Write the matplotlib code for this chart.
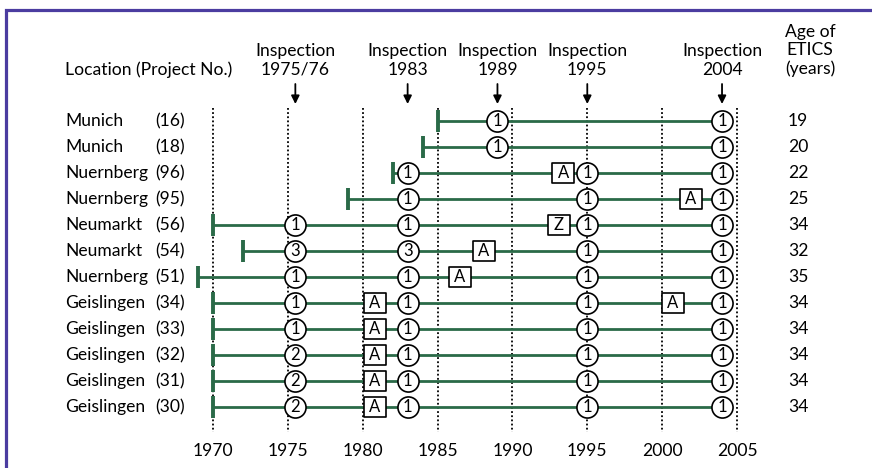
import matplotlib.pyplot as plt
from matplotlib.patches import Rectangle
from matplotlib.path import Path

plt.rcParams['font.family'] = ['Lato', 'DejaVu Sans']

# rows, top to bottom
names = ["Munich", "Munich", "Nuernberg", "Nuernberg", "Neumarkt", "Neumarkt",
         "Nuernberg", "Geislingen", "Geislingen", "Geislingen", "Geislingen", "Geislingen"]
projects = ["(16)", "(18)", "(96)", "(95)", "(56)", "(54)",
            "(51)", "(34)", "(33)", "(32)", "(31)", "(30)"]
start_year = [1985, 1984, 1982, 1979, 1970, 1972, 1969, 1970, 1970, 1970, 1970, 1970]
end_year = 2004
ages = [19, 20, 22, 25, 34, 32, 35, 34, 34, 34, 34, 34]

# inspections and the grade given at each (None = not inspected)
insp_years = [1975.5, 1983, 1989, 1995, 2004]
insp_labels = ["1975/76", "1983", "1989", "1995", "2004"]
g1975 = [None, None, None, None, 1, 3, 1, 1, 1, 2, 2, 2]
g1983 = [None, None, 1, 1, 1, 3, 1, 1, 1, 1, 1, 1]
g1989 = [1, 1, None, None, None, None, None, None, None, None, None, None]
g1995 = [None, None, 1, 1, 1, 1, 1, 1, 1, 1, 1, 1]
g2004 = [1, 1, 1, 1, 1, 1, 1, 1, 1, 1, 1, 1]
grades = [g1975, g1983, g1989, g1995, g2004]

# repairs / renovations
rep_rows = [2, 3, 4, 5, 6, 7, 7, 8, 9, 10, 11]
rep_years = [1993.4, 2001.9, 1993.1, 1988.1, 1986.5, 1980.8, 2000.7, 1980.8, 1980.8, 1980.8, 1980.8]
rep_labels = ["A", "A", "Z", "A", "A", "A", "A", "A", "A", "A", "A"]

green = "#2a6a48"
fs = 12.6
W, H = 872, 468
ppy = 524 / 35          # pixels per year
x0 = 1970 - 213 / ppy
row_px, row0 = 26, 121


def yr(px):
    return x0 + px / ppy


def rw(py):
    return (py - row0) / row_px


fig = plt.figure(figsize=(W / 100, H / 100), dpi=100)
ax = fig.add_axes([0, 0, 1, 1])
ax.set_xlim(x0, x0 + W / ppy)
ax.set_ylim(rw(H), rw(0))
ax.axis("off")

# dotted grid
for g in range(1970, 2006, 5):
    ax.plot([g, g], [rw(108), rw(432)], color="black", lw=1.3,
            ls=(0, (1, 1.3)), zorder=1)
    ax.text(g, rw(451), str(g), ha="center", va="center", fontsize=fs)

box = Path([(-1.15, -1), (1.15, -1), (1.15, 1), (-1.15, 1), (-1.15, -1)],
           [Path.MOVETO, Path.LINETO, Path.LINETO, Path.LINETO, Path.CLOSEPOLY])

for i in range(len(names)):
    ax.plot([start_year[i], end_year], [i, i], color=green, lw=2, zorder=2)
    ax.plot(start_year[i], i, marker="|", ms=16, mew=2.8, color=green, zorder=3)
    ax.text(yr(65), i, names[i], ha="left", va="center", fontsize=fs)
    ax.text(yr(155), i, projects[i], ha="left", va="center", fontsize=fs)
    ax.text(yr(798), i, str(ages[i]), ha="center", va="center", fontsize=fs)
    for y, g in zip(insp_years, grades):
        if g[i] is None:
            continue
        ax.plot(y, i, marker="o", ms=15.2, mfc="white", mec="black", mew=1.2, zorder=4)
        ax.text(y, i, str(g[i]), ha="center", va="center", fontsize=12, zorder=5)

for r, y, lab in zip(rep_rows, rep_years, rep_labels):
    ax.plot(y, r, marker=box, ms=16.5, mfc="white", mec="black", mew=1.2, zorder=4)
    ax.text(y, r, lab, ha="center", va="center", fontsize=12, zorder=5)

# headers
ax.text(yr(65), rw(70), "Location (Project No.)", ha="left", va="center", fontsize=fs)
for y, lab in zip(insp_years, insp_labels):
    ax.text(y, rw(60.5), "Inspection\n" + lab, ha="center", va="center",
            fontsize=fs, linespacing=1.2)
    ax.annotate("", xy=(y, rw(104)), xytext=(y, rw(84)),
                arrowprops=dict(arrowstyle="-|>", color="black", lw=1.3,
                                mutation_scale=12, shrinkA=0, shrinkB=0))
ax.text(yr(810), rw(50.5), "Age of\nETICS\n(years)", ha="center", va="center",
        fontsize=fs, linespacing=1.2)

# frame around the figure
fig.patches.append(Rectangle((6 / W, -0.1), 1.1, 1 - 10 / H + 0.1,
                             transform=fig.transFigure, fill=False,
                             ec="#4b3ca0", lw=2.3))

fig.savefig("out.png", dpi=100)
